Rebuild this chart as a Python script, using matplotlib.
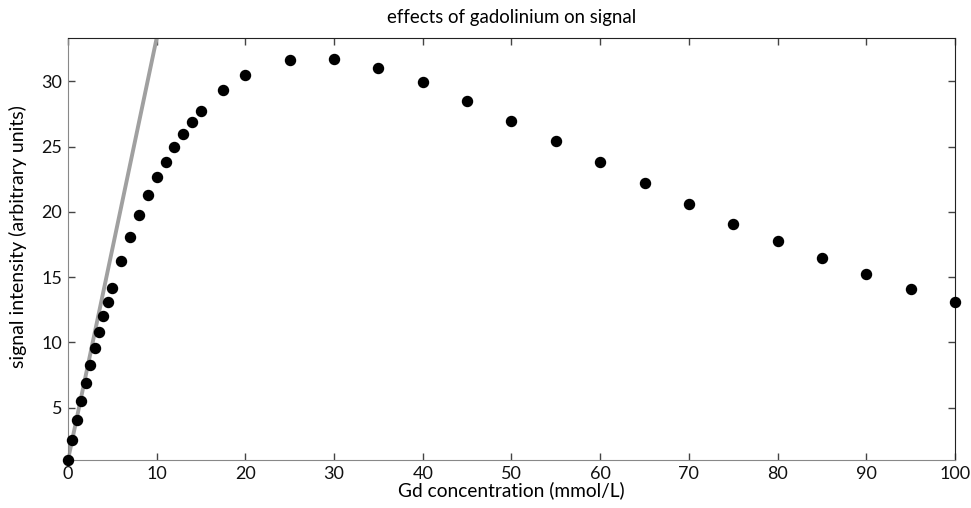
import matplotlib.pyplot as plt

plt.rcParams['font.family'] = ['Lato', 'DejaVu Sans']
plt.rcParams['font.size'] = 11

# Gd concentration (mmol/L) and measured signal
conc = [0, 0.5, 1, 1.5, 2, 2.5, 3, 3.5, 4, 4.5, 5, 6, 7, 8, 9, 10, 11, 12, 13, 14, 15,
        17.5, 20, 25, 30, 35, 40, 45, 50, 55, 60, 65, 70, 75, 80, 85, 90, 95, 100]
signal = [1.0, 2.55, 4.06, 5.5, 6.93, 8.3, 9.55, 10.8, 12.0, 13.1, 14.2, 16.25, 18.07,
          19.76, 21.27, 22.65, 23.85, 24.98, 25.97, 26.9, 27.7,
          29.3, 30.5, 31.6, 31.67, 31.0, 29.93, 28.47, 26.97, 25.4, 23.8, 22.2, 20.6,
          19.1, 17.77, 16.5, 15.26, 14.1, 13.06]

# initial linear slope line
line_x = [0, 12]
line_y = [1.0, 1.0 + 3.23 * 12]

fig = plt.figure(figsize=(9.71, 5.08), dpi=100)
ax = fig.add_axes([0.0700, 0.0945, 0.9135, 0.8305])

ax.plot(line_x, line_y, color='#a0a0a0', lw=2.8, solid_capstyle='butt', zorder=2)
ax.scatter(conc, signal, s=52, color='black', zorder=3, clip_on=False)

ax.set_xlim(0, 100)
ax.set_ylim(1, 33.3)
ax.set_xticks(range(0, 101, 10))
ax.set_yticks([5, 10, 15, 20, 25, 30])

ax.tick_params(direction='in', length=5, width=1, top=True, right=True,
               colors='#444444', labelcolor='#111111', labelsize=13, pad=4)
for side in ['left', 'bottom']:
    ax.spines[side].set_color('#888888')
for side in ['top', 'right']:
    ax.spines[side].set_color('#222222')

ax.set_xlabel('Gd concentration (mmol/L)', fontsize=13.8, labelpad=0)
ax.set_ylabel('signal intensity (arbitrary units)', fontsize=14)
ax.yaxis.set_label_coords(-0.046, 0.53)
ax.set_title('effects of gadolinium on signal', fontsize=13.4, pad=11)

fig.savefig('out.png', dpi=100)
